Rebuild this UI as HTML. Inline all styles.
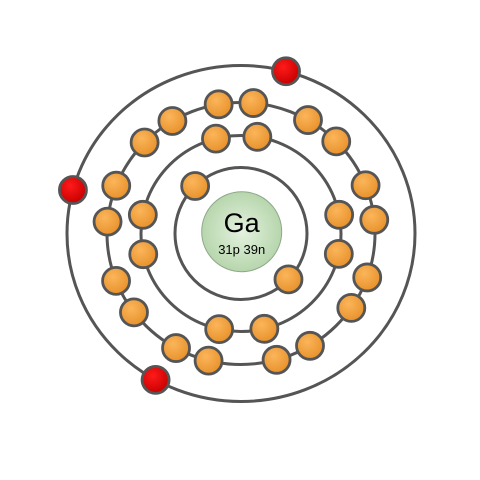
<!DOCTYPE html>
<html><head><meta charset="utf-8"><style>
html,body{margin:0;padding:0;background:#fff;}
svg{display:block;}
text{font-family:"Liberation Sans",sans-serif;}
</style></head><body>
<svg id="atom" width="480" height="480" viewBox="0 0 480 480">
<defs>
<radialGradient id="gOr" cx="40%" cy="35%" r="65%"><stop offset="0" stop-color="#fbb55a"/><stop offset="1" stop-color="#e8922c"/></radialGradient>
<radialGradient id="gRed" cx="40%" cy="35%" r="65%"><stop offset="0" stop-color="#ff1a1a"/><stop offset="1" stop-color="#c80000"/></radialGradient>
<radialGradient id="gNuc" cx="50%" cy="50%" r="55%"><stop offset="0" stop-color="#e4f2de"/><stop offset="1" stop-color="#b2d3a8"/></radialGradient>
</defs>
<g id="shells"></g>
<g id="electrons"></g>
<g>
<circle cx="241.7" cy="231.7" r="40" fill="url(#gNuc)" stroke="#8fa88a" stroke-width="1"/>
<text x="241.7" y="232" text-anchor="middle" font-size="27" fill="#000">Ga</text>
<text x="241.7" y="254" text-anchor="middle" font-size="13" fill="#000">31p 39n</text>
</g>
</svg>
<script>
const shellRx = [66, 100, 134, 174];
const shellRy = [66, 98, 131, 168];
const shell1Angles = [-134, 44];
const shell2Angles = [-104.5, -80.6, -11, 12, 76.5, 102.6, 167.8, -169];
const shell3Angles = [-99.6, -84.7, -60, -44.7, -21.6, -6, 19.6, 34.6, 59, 74.6, 104, 119, 143, 158.8, -174.8, -158.6, -136, -120.8];
const shell4Angles = [-75, -165, 119.4];
const cx = 241, cy = 233.5;
const NS = 'http://www.w3.org/2000/svg';
const shellsG = document.getElementById('shells');
const elG = document.getElementById('electrons');
shellRx.forEach((rx, i) => {
  const c = document.createElementNS(NS, 'ellipse');
  c.setAttribute('cx', cx); c.setAttribute('cy', cy); c.setAttribute('rx', rx); c.setAttribute('ry', shellRy[i]);
  c.setAttribute('fill', 'none'); c.setAttribute('stroke', '#555'); c.setAttribute('stroke-width', '3');
  
  
  shellsG.appendChild(c);
});
const all = [shell1Angles, shell2Angles, shell3Angles, shell4Angles];
all.forEach((angles, si) => {
  angles.forEach((a) => {
    const t = a * Math.PI / 180;
    const e = document.createElementNS(NS, 'circle');
    e.setAttribute('cx', cx + shellRx[si] * Math.cos(t));
    e.setAttribute('cy', cy + shellRy[si] * Math.sin(t));
    e.setAttribute('r', 13.5);
    e.setAttribute('fill', si === 3 ? 'url(#gRed)' : 'url(#gOr)');
    e.setAttribute('stroke', '#555'); e.setAttribute('stroke-width', '2.8');
    
    
    elG.appendChild(e);
  });
});
</script>
</body></html>
